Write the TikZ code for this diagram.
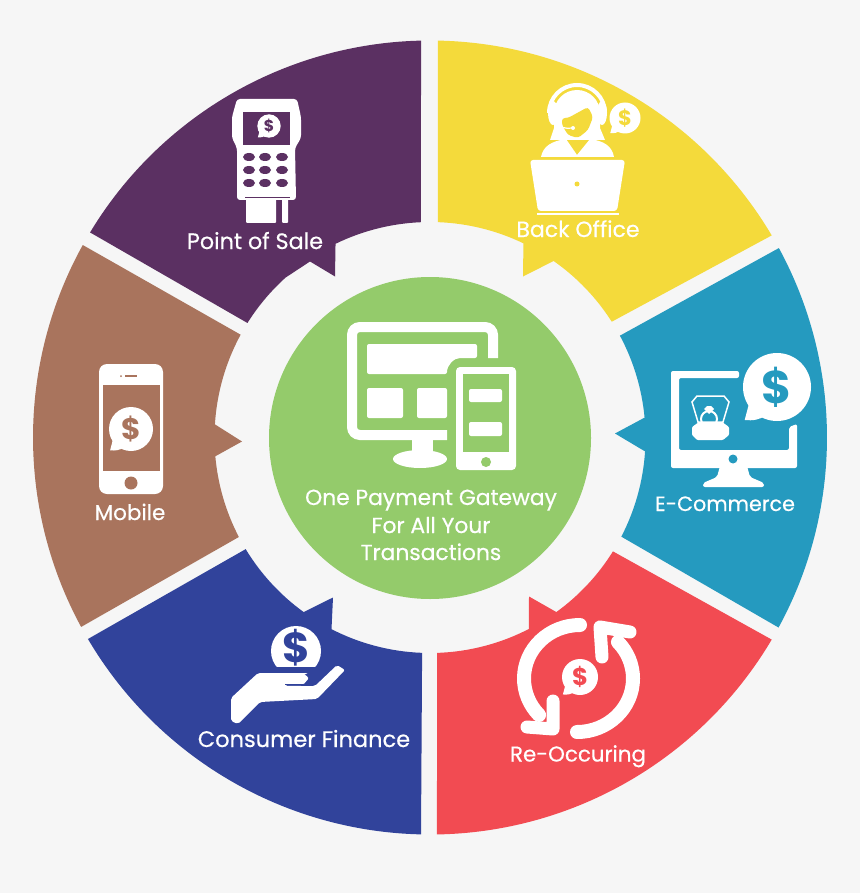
\documentclass[tikz,border=0pt]{standalone}
\usepackage{fontspec}
\setmainfont{Poppins}
\newfontfamily\labelfont[FakeBold=0.5]{Poppins}
\definecolor{bggrey}{HTML}{F6F6F6}
\definecolor{posviolet}{HTML}{5B3062}
\definecolor{backyellow}{HTML}{F4DA3B}
\definecolor{shopteal}{HTML}{259ABF}
\definecolor{recurred}{HTML}{F24B52}
\definecolor{financeblue}{HTML}{31439B}
\definecolor{mobilebrown}{HTML}{A9745D}
\definecolor{gatewaygreen}{HTML}{94CB6B}
\def\Rout{397pt}
\def\Rin{215.5pt}
\tikzset{
    seglabel/.style={text=white,inner sep=0pt,anchor=base,font=\labelfont\fontsize{#1}{#1}\selectfont},
    seglabel/.default=20,
}
\newcommand{\dollarbubble}[5]{%
    \begin{scope}[shift={(#2,#3)},scale=#4]
        \fill[white] (0,0) circle (1);
        \fill[white] (-0.8,0.4) -- (-0.95,0.97) .. controls (-0.7,1.0) and (-0.5,0.95) .. (-0.35,0.85) -- cycle;
    \end{scope}
    \pgfmathsetmacro{\dollarsize}{1.35*#4}
    \node[text=#5,inner sep=0pt,font=\fontsize{\dollarsize}{\dollarsize}\selectfont\bfseries] (#1) at (#2,#3) {\$};
}
\begin{document}
\begin{tikzpicture}[x=1pt,y=1pt,yscale=-1]
    \fill[bggrey] (0,0) rectangle (860,893);
    \useasboundingbox (0,0) rectangle (860,893);

    \begin{scope}[shift={(430,437.5)}]
        % Point of Sale
        \fill[posviolet] (-148.9:\Rout) arc[start angle=-148.9,end angle=-91.3,radius=\Rout]
            -- (-92.4:\Rin) arc[start angle=-92.4,end angle=-116,radius=\Rin]
            -- (-95,-161) -- (-120,-176)
            -- (-132.1:\Rin) arc[start angle=-132.1,end angle=-147.9,radius=\Rin] -- cycle;
        % Back Office
        \fill[backyellow] (-88.85:\Rout) arc[start angle=-88.85,end angle=-30.6,radius=\Rout]
            -- (-32.5:\Rin) arc[start angle=-32.5,end angle=-55,radius=\Rin]
            -- (93,-161)
            -- (-64.3:\Rin) arc[start angle=-64.3,end angle=-87.9,radius=\Rin] -- cycle;
        % E-Commerce
        \fill[shopteal] (-28.5:\Rout) arc[start angle=-28.5,end angle=28.6,radius=\Rout]
            -- (27.4:\Rin) arc[start angle=27.4,end angle=3.7,radius=\Rin]
            -- (185,-4)
            -- (-5.3:\Rin) arc[start angle=-5.3,end angle=-28.2,radius=\Rin] -- cycle;
        % Re-Occuring
        \fill[recurred] (30.6:\Rout) arc[start angle=30.6,end angle=89,radius=\Rout]
            -- (88.1:\Rin) arc[start angle=88.1,end angle=62.7,radius=\Rin]
            -- (99,159)
            -- (54.1:\Rin) arc[start angle=54.1,end angle=31.9,radius=\Rin] -- cycle;
        % Consumer Finance
        \fill[financeblue] (91.3:\Rout) arc[start angle=91.3,end angle=149.5,radius=\Rout]
            -- (148.8:\Rin) arc[start angle=148.8,end angle=125.9,radius=\Rin]
            -- (-97,160)
            -- (117.2:\Rin) arc[start angle=117.2,end angle=92.1,radius=\Rin] -- cycle;
        % Mobile
        \fill[mobilebrown] (151.5:\Rout) arc[start angle=151.5,end angle=209,radius=\Rout]
            -- (208.5:\Rin) arc[start angle=208.5,end angle=183.5,radius=\Rin]
            -- (-188,4)
            -- (175:\Rin) arc[start angle=175,end angle=152.5,radius=\Rin] -- cycle;
        % Gateway
        \fill[gatewaygreen] (0,0.5) circle (161);
    \end{scope}

    % Gateway icon
    \draw[white,line width=10pt,rounded corners=8pt] (447,435) -- (352,435) -- (352,327) -- (493,327) -- (493,358);
    \fill[white,rounded corners=2pt] (367,344) -- (477,344) -- (477,358) -- (462,358) .. controls (454,358) and (447,365) .. (447,374) -- (367,374) -- cycle;
    \fill[white,rounded corners=2pt] (367,388) rectangle (403,418);
    \fill[white,rounded corners=2pt] (417,388) rectangle (447,418);
    \fill[white] (412,438) rectangle (433,452);
    \fill[white] (420,459) ellipse (27 and 9);
    \fill[gatewaygreen] (447,440) rectangle (456,472);
    \fill[white,rounded corners=4pt] (456,367) rectangle (516,470);
    \fill[gatewaygreen] (463,374) rectangle (509,452);
    \fill[gatewaygreen] (486,462) circle (5);
    \fill[white,rounded corners=2pt] (469,389) rectangle (502,402);
    \fill[white,rounded corners=2pt] (469,422) rectangle (502,436);
    \node[seglabel=21.8] (gateway1) at (431,505) {One Payment Gateway};
    \node[seglabel=21.8] (gateway2) at (431,533) {For All Your};
    \node[seglabel=21.8] (gateway3) at (431,560) {Transactions};

    % Point of Sale icon
    \fill[white,rounded corners=3pt] (237,99) -- (297,99) -- (301,117) -- (301,138) -- (295,148) -- (296,200)
        -- (237,200) -- (237,148) -- (232,138) -- (232,117) -- cycle;
    \fill[posviolet] (243,112) rectangle (290,145);
    \foreach \keyx in {249,265,282}
        \foreach \keyy in {157,170,183}
            \fill[posviolet] (\keyx,\keyy) ellipse (6 and 4);
    \fill[white,rounded corners=1pt] (246,197) rectangle (276,223);
    \fill[white,rounded corners=1pt] (282,197) rectangle (288,223);
    \draw[posviolet,line width=0.6pt] (245,197) -- (290,197);
    \dollarbubble{posdollar}{269}{126}{11.7}{posviolet}
    \node[seglabel=22.3] (pos) at (255,249) {Point of Sale};

    % Back Office icon
    \draw[white,line width=4pt] (549,113) arc[start angle=180,end angle=360,radius=28pt];
    \fill[white] (553,113) ellipse (5 and 12);
    \fill[white] (602,113) ellipse (5 and 12);
    \fill[white] (554,113) arc[start angle=180,end angle=360,radius=23pt] -- (600,128) -- (605,140) -- (550,140) -- (554,128) -- cycle;
    \fill[backyellow,rounded corners=3pt] (562,118) -- (568,118) -- (588,107) -- (593,117) -- (588,130) -- (578,138) -- (568,135) -- (562,125) -- cycle;
    \draw[white,line width=1.2pt] (557,122) .. controls (560,128) and (566,129) .. (572,128);
    \fill[white] (573,128) circle (2);
    \fill[white] (541,157) .. controls (543,146) and (552,141) .. (566,139) -- (577,155) -- (590,139) .. controls (604,141) and (612,146) .. (614,157) -- cycle;
    \fill[white,rounded corners=3pt] (530,160) -- (625,160) -- (617,211) -- (538,211) -- cycle;
    \draw[white,line width=2pt] (537,214) -- (619,214);
    \fill[backyellow] (577,184) circle (2.5);
    \dollarbubble{backdollar}{625}{118}{15.5}{backyellow}
    \node[seglabel=22] (back) at (578,237) {Back Office};

    % E-Commerce icon
    \fill[white,rounded corners=2pt] (739,371) -- (671,371) -- (671,468) -- (797,468) -- (797,424) -- (789,427)
        -- (789,450) -- (679,450) -- (679,378) -- (739,378) -- cycle;
    \fill[white,rounded corners=2pt] (720,466) -- (747,466) -- (750,477) -- (764,483) -- (764,487) -- (703,487) -- (703,483) -- (717,477) -- cycle;
    \fill[shopteal] (733,459) circle (4.5);
    \draw[white,line width=1.5pt] (692,402) -- (697,396) -- (724,396) -- (729,402) -- (723,422) -- (698,422) -- cycle;
    \draw[white,line width=2pt] (709,419) circle (8);
    \fill[white] (704,409) -- (707,406) -- (711,406) -- (714,409) -- (709,414) -- cycle;
    \fill[white,rounded corners=1pt] (692,427) -- (699,422) -- (722,422) -- (729,427) -- (729,435) -- (723,440) -- (697,440) -- (692,435) -- cycle;
    \dollarbubble{shopdollar}{777}{387}{34}{shopteal}
    \node[seglabel=20.7] (shop) at (725,511) {E-Commerce};

    % Re-Occuring icon
    \begin{scope}[white,line cap=round,line join=round]
        \draw[line width=14pt] (580,625) arc[start angle=270,end angle=137,x radius=56pt,y radius=53.5pt];
        \draw[line width=13pt] (553,701) -- (553,729) -- (527,727);
        \draw[line width=14pt] (577,732) arc[start angle=90,end angle=-43,x radius=56pt,y radius=53.5pt];
        \draw[line width=13pt] (602,657) -- (600,627) -- (630,632);
    \end{scope}
    \dollarbubble{recurdollar}{580}{677}{18}{recurred}
    \node[seglabel=21.4] (recur) at (578,761.5) {Re-Occuring};

    % Consumer Finance icon
    \fill[white] (296,651) circle (25);
    \node[text=financeblue,inner sep=0pt,font=\fontsize{42}{42}\selectfont\bfseries] (coin) at (296,648) {\$};
    \fill[financeblue] (265,667) rectangle (330,673);
    \fill[white,rounded corners=2pt] (231,698) -- (258,673) -- (303,673) -- (309,678) -- (303,685) -- (285,685) -- (285,686)
        -- (315,686) -- (337,665) -- (345,670) -- (317,699) -- (260,702) -- (238,724) -- (231,721) -- cycle;
    \draw[financeblue,line width=0.8pt] (285,684.5) -- (306,684.5);
    \node[seglabel=22.5] (finance) at (304,747) {Consumer Finance};

    % Mobile icon
    \fill[white,rounded corners=8pt] (99,364) rectangle (163,494);
    \fill[mobilebrown] (103,385) rectangle (160,471);
    \fill[mobilebrown] (131,483) circle (6.5);
    \draw[mobilebrown,line width=1.5pt] (125,376) -- (137,376);
    \fill[mobilebrown] (121,376) circle (1);
    \dollarbubble{mobiledollar}{131}{429}{22}{mobilebrown}
    \node[seglabel=21.5] (mobile) at (130,520) {Mobile};
\end{tikzpicture}
\end{document}
